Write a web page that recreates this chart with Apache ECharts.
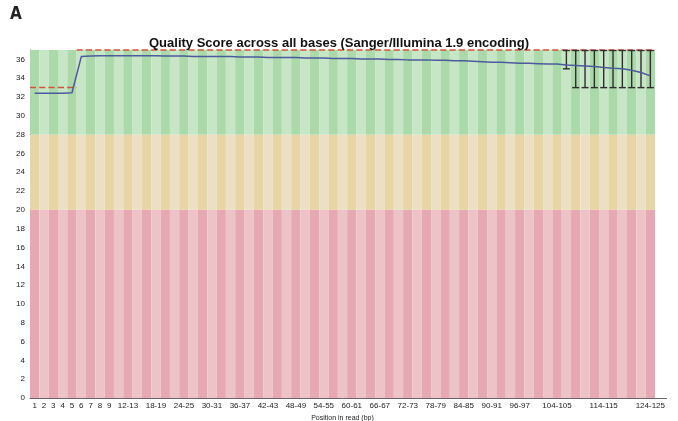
<!DOCTYPE html>
<html>
<head>
<meta charset="utf-8">
<script src="https://cdn.jsdelivr.net/npm/echarts@6/dist/echarts.min.js"></script>
<style>
  html, body { margin: 0; padding: 0; background: #ffffff; }
  #chart { width: 678px; height: 421px; }
</style>
</head>
<body>
<div id="chart"></div>
<script>
// Position bins along the read (FastQC grouping for 125 bp reads)
const positions = [
  '1','2','3','4','5','6','7','8','9',
  '10-11','12-13','14-15','16-17','18-19','20-21','22-23','24-25','26-27','28-29',
  '30-31','32-33','34-35','36-37','38-39','40-41','42-43','44-45','46-47','48-49',
  '50-51','52-53','54-55','56-57','58-59','60-61','62-63','64-65','66-67','68-69',
  '70-71','72-73','74-75','76-77','78-79','80-81','82-83','84-85','86-87','88-89',
  '90-91','92-93','94-95','96-97','98-99','100-101','102-103','104-105','106-107',
  '108-109','110-111','112-113','114-115','116-117','118-119','120-121','122-123','124-125'
];

// Bins that get a tick label on the x axis
const labelledPositions = [
  '1','2','3','4','5','6','7','8','9',
  '12-13','18-19','24-25','30-31','36-37','42-43','48-49','54-55','60-61',
  '66-67','72-73','78-79','84-85','90-91','96-97','104-105','114-115','124-125'
];

// Mean quality per bin
const meanQuality = [
  32.4, 32.4, 32.4, 32.4, 32.45,
  36.3,
  36.35,
  36.4, 36.4, 36.4, 36.4, 36.4, 36.4, 36.4, 36.35, 36.35,
  36.35, 36.3, 36.3, 36.3, 36.3, 36.3, 36.25, 36.25, 36.25, 36.2, 36.2, 36.2, 36.2,
  36.15, 36.15, 36.15, 36.1, 36.1, 36.1, 36.05, 36.05, 36.05, 36.0, 36.0,
  35.95, 35.95, 35.95, 35.9, 35.9, 35.85, 35.85, 35.8,
  35.75, 35.7, 35.7, 35.65, 35.6, 35.6, 35.55, 35.5, 35.5,
  35.4, 35.35, 35.3, 35.25, 35.15, 35.05, 35.0, 34.85, 34.6, 34.25
];

// Median quality per bin
const medianQuality = [
  33, 33, 33, 33, 33,
  37, 37, 37, 37, 37, 37, 37, 37, 37, 37, 37, 37, 37, 37, 37, 37, 37, 37, 37, 37,
  37, 37, 37, 37, 37, 37, 37, 37, 37, 37, 37, 37, 37, 37, 37, 37, 37, 37, 37, 37,
  37, 37, 37, 37, 37, 37, 37, 37, 37, 37, 37, 37, 37, 37, 37, 37, 37, 37, 37, 37,
  37, 37
];

// 10th / 90th percentile whiskers (only bins where they spread)
const whiskerBins  = ['106-107','108-109','110-111','112-113','114-115','116-117','118-119','120-121','122-123','124-125'];
const whiskerLow   = [35, 33, 33, 33, 33, 33, 33, 33, 33, 33];
const whiskerHigh  = [37, 37, 37, 37, 37, 37, 37, 37, 37, 37];

// Quality zones: poor / reasonable / good
const zoneEdges = [0, 20, 28, 37];
const zoneColors = [
  ['#e6a8b2', '#eec3c8'],
  ['#e8d5a5', '#ecdfc3'],
  ['#abd9aa', '#c6e6c5']
];

const chart = echarts.init(document.getElementById('chart'), null, { renderer: 'canvas' });

const zoneSeries = zoneColors.map((pair, z) => ({
  type: 'bar',
  stack: 'zones',
  silent: true,
  barCategoryGap: '0%',
  barGap: '0%',
  z: 1,
  itemStyle: {
    color: p => pair[p.dataIndex % 2]
  },
  data: positions.map(() => zoneEdges[z + 1] - zoneEdges[z])
}));

const whiskerData = whiskerBins.map((b, i) => [positions.indexOf(b), whiskerLow[i], whiskerHigh[i]]);
const medianData = medianQuality.map((v, i) => [i, v]);

chart.setOption({
  animation: false,
  title: {
    text: 'Quality Score across all bases (Sanger/Illumina 1.9 encoding)',
    left: 334,
    textAlign: 'center',
    top: 32,
    textStyle: { fontSize: 13, fontWeight: 'bold', color: '#111', fontFamily: 'Liberation Sans, Arial, sans-serif' }
  },
  graphic: [
    {
      type: 'text', left: 10, top: 6,
      style: { text: 'A', fontSize: 17, fontWeight: 'bold', fill: '#222', fontFamily: 'Liberation Sans Narrow, DejaVu Sans Condensed, sans-serif' }
    },
    {
      type: 'line', z: 10,
      shape: { x1: 655, y1: 398.5, x2: 667, y2: 398.5 },
      style: { stroke: '#666', lineWidth: 1 }
    }
  ],
  grid: { left: 30, right: 23, top: 50, bottom: 23, outerBoundsMode: 'none' },
  xAxis: {
    type: 'category',
    data: positions,
    boundaryGap: true,
    name: 'Position in read (bp)',
    nameLocation: 'middle',
    nameGap: 16,
    nameTextStyle: { fontSize: 7, color: '#222', fontFamily: 'Liberation Sans, Arial, sans-serif' },
    axisLine: { lineStyle: { color: '#666', width: 1 } },
    axisTick: { show: false },
    axisLabel: {
      interval: (i, v) => labelledPositions.includes(v),
      fontSize: 8,
      color: '#1a1a1a',
      margin: 4,
      fontFamily: 'Liberation Sans Narrow, Liberation Sans, Arial, sans-serif'
    },
    splitLine: { show: false }
  },
  yAxis: {
    type: 'value',
    min: 0,
    max: 37,
    interval: 2,
    axisLine: { show: true, lineStyle: { color: '#666', width: 1 } },
    axisTick: { show: false },
    axisLabel: {
      showMaxLabel: false,
      fontSize: 8,
      color: '#1a1a1a',
      margin: 5,
      padding: [3, 0, 0, 0],
      fontFamily: 'Liberation Sans, Arial, sans-serif'
    },
    splitLine: { show: false }
  },
  series: [
    ...zoneSeries,
    {
      type: 'custom',
      name: 'median',
      z: 5,
      silent: true,
      clip: false,
      data: medianData,
      renderItem: (params, api) => {
        const c = api.coord([api.value(0), api.value(1)]);
        const w = api.size([1, 0])[0];
        return {
          type: 'line',
          shape: { x1: c[0] - w / 2, y1: c[1], x2: c[0] + w / 2, y2: c[1] },
          style: { stroke: '#d4533c', lineWidth: 1.5, lineDash: [6, 3] }
        };
      }
    },
    {
      type: 'custom',
      name: 'whiskers',
      z: 6,
      silent: true,
      data: whiskerData,
      renderItem: (params, api) => {
        const lo = api.coord([api.value(0), api.value(1)]);
        const hi = api.coord([api.value(0), api.value(2)]);
        const cap = 3.5;
        const st = { stroke: '#2e2e2e', lineWidth: 1.4 };
        return {
          type: 'group',
          children: [
            { type: 'line', shape: { x1: lo[0], y1: lo[1], x2: hi[0], y2: hi[1] }, style: st },
            { type: 'line', shape: { x1: lo[0] - cap, y1: lo[1], x2: lo[0] + cap, y2: lo[1] }, style: st },
            { type: 'line', shape: { x1: hi[0] - cap, y1: hi[1] + 0.5, x2: hi[0] + cap, y2: hi[1] + 0.5 }, style: st }
          ]
        };
      }
    },
    {
      type: 'line',
      name: 'mean',
      z: 7,
      silent: true,
      data: meanQuality,
      symbol: 'none',
      lineStyle: { color: '#4c5a9e', width: 1.5 }
    }
  ]
});
</script>
</body>
</html>
